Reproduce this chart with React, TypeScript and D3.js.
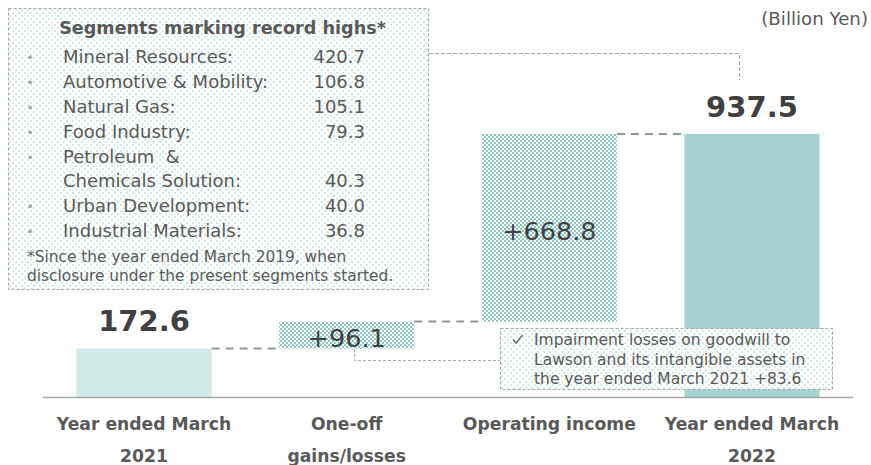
import React from "react";
import * as d3 from "d3";

const categories = ["Year ended March 2021", "One-off gains/losses", "Operating income", "Year ended March 2022"];
const categoryLines = [["Year ended March", "2021"], ["One-off", "gains/losses"], ["Operating income"], ["Year ended March", "2022"]];
const barValues = [172.6, 96.1, 668.8, 937.5];
const barKinds = ["total", "delta", "delta", "total"];
const valueLabels = ["172.6", "+96.1", "+668.8", "937.5"];

const segmentNames = [["Mineral Resources:"], ["Automotive & Mobility:"], ["Natural Gas:"], ["Food Industry:"], ["Petroleum  &", "Chemicals Solution:"], ["Urban Development:"], ["Industrial Materials:"]];
const segmentValues = ["420.7", "106.8", "105.1", "79.3", "40.3", "40.0", "36.8"];
const legendTitle = "Segments marking record highs*";
const footnoteLines = ["*Since the year ended March 2019, when", "disclosure under the present segments started."];
const calloutLines = ["Impairment losses on goodwill to", "Lawson and its intangible assets in", "the year ended March 2021 +83.6"];
const unitLabel = "(Billion Yen)";

const W = 871;
const H = 465;
const FONT = "'DejaVu Sans', Verdana, sans-serif";
const TXT = "#595959";
const DARK = "#404040";

export default function App() {
  const x = d3.scaleBand<string>().domain(categories).range([43, 853]).paddingInner(0.333).paddingOuter(0.165);
  const y = d3.scaleLinear().domain([0, 937.5]).range([397, 134]);

  let running = 0;
  const bars = barValues.map((v, i) => {
    let start: number, end: number;
    if (barKinds[i] === "total") {
      start = 0;
      end = v;
      running = v;
    } else {
      start = running;
      end = running + v;
      running = end;
    }
    return { cat: categories[i], start, end, kind: barKinds[i], label: valueLabels[i], i };
  });

  const fills = ["#d0e9e6", "url(#chk)", "url(#chk)", "#a5d2cf"];

  let rowY = 63;
  const rows: { bulletY: number; lines: { text: string; y: number }[]; valY: number; val: string }[] = [];
  segmentNames.forEach((lines, i) => {
    const ls = lines.map((t, k) => ({ text: t, y: rowY + k * 24 }));
    rows.push({ bulletY: rowY, lines: ls, valY: rowY + (lines.length - 1) * 24, val: segmentValues[i] });
    rowY += lines.length === 1 ? 25 : 49;
  });

  return (
    <svg width={W} height={H} style={{ position: "absolute", left: 0, top: 0 }} fontFamily={FONT}>
      <defs>
        <pattern id="chk" width="4" height="4" patternUnits="userSpaceOnUse">
          <rect width="4" height="4" fill="#ffffff" />
          <rect x="0" y="0" width="2" height="2" fill="#8cc8c2" />
          <rect x="2" y="2" width="2" height="2" fill="#8cc8c2" />
        </pattern>
        <pattern id="lite" width="6" height="6" patternUnits="userSpaceOnUse">
          <rect width="6" height="6" fill="#ffffff" />
          <rect x="0" y="0" width="2" height="2" fill="#d3e9e6" />
          <rect x="3" y="3" width="2" height="2" fill="#d3e9e6" />
        </pattern>
      </defs>
      <rect width={W} height={H} fill="#ffffff" />

      <text x={868} y={25} textAnchor="end" fontSize={18.2} fill={TXT}>{unitLabel}</text>

      {bars.map((b) => (
        <rect key={b.cat} x={x(b.cat)} y={y(b.end)} width={x.bandwidth()} height={y(b.start) - y(b.end)} fill={fills[b.i]} />
      ))}

      {bars.slice(0, -1).map((b, i) => (
        <line key={"c" + i} x1={(x(b.cat) as number) + x.bandwidth()} x2={x(bars[i + 1].cat) as number} y1={y(b.end)} y2={y(b.end)} stroke="#969696" strokeWidth={2} strokeDasharray="8,6" />
      ))}

      <line x1={43} x2={853} y1={397.5} y2={397.5} stroke="#a6a6a6" strokeWidth={1.5} />

      {bars.map((b) =>
        b.kind === "total" ? (
          <text key={"v" + b.i} x={(x(b.cat) as number) + x.bandwidth() / 2} y={y(b.end) - 17.5} textAnchor="middle" fontSize={29} fontWeight="bold" fill={DARK}>{b.label}</text>
        ) : (
          <text key={"v" + b.i} x={(x(b.cat) as number) + x.bandwidth() / 2} y={(y(b.start) + y(b.end)) / 2 + 12} textAnchor="middle" fontSize={25.5} fill={DARK}>{b.label}</text>
        )
      )}

      {categories.map((c, i) => (
        <text key={"x" + i} textAnchor="middle" fontSize={17.2} fontWeight="bold" fill={TXT}>
          {categoryLines[i].map((l, k) => (
            <tspan key={k} x={(x(c) as number) + x.bandwidth() / 2} y={430 + k * 32}>{l}</tspan>
          ))}
        </text>
      ))}

      <rect x={8.5} y={8.5} width={420} height={281} fill="url(#lite)" stroke="#a6a6a6" strokeWidth={1} strokeDasharray="3,2" />
      <path d="M429,53.5 H739.5 V80" fill="none" stroke="#a6a6a6" strokeWidth={1} strokeDasharray="4,2" />
      <text x={222.5} y={34} textAnchor="middle" fontSize={17.6} fontWeight="bold" fill={TXT}>{legendTitle}</text>
      {rows.map((r, i) => (
        <g key={"r" + i}>
          <text x={30} y={r.bulletY - 1} textAnchor="middle" fontSize={13} fill="#a6a6a6">•</text>
          {r.lines.map((l, k) => (
            <text key={k} x={63} y={l.y} fontSize={18} fill={TXT} style={{ whiteSpace: "pre" }}>{l.text}</text>
          ))}
          <text x={365} y={r.valY} textAnchor="end" fontSize={18} fill={TXT}>{r.val}</text>
        </g>
      ))}
      {footnoteLines.map((t, k) => (
        <text key={"f" + k} x={27} y={262 + k * 18.5} fontSize={15.4} fill={TXT}>{t}</text>
      ))}

      <path d="M354.5,349 V360.5 H500" fill="none" stroke="#a6a6a6" strokeWidth={1} strokeDasharray="3,2" />
      <rect x={500.5} y={328.5} width={332} height={61} fill="url(#lite)" stroke="#a6a6a6" strokeWidth={1} strokeDasharray="3,2" />
      <path d="M513,339.5 L516,343 L522.5,335" fill="none" stroke={TXT} strokeWidth={1.2} />
      {calloutLines.map((t, k) => (
        <text key={"o" + k} x={534} y={345 + k * 19.5} fontSize={15.5} fill={TXT}>{t}</text>
      ))}
    </svg>
  );
}
